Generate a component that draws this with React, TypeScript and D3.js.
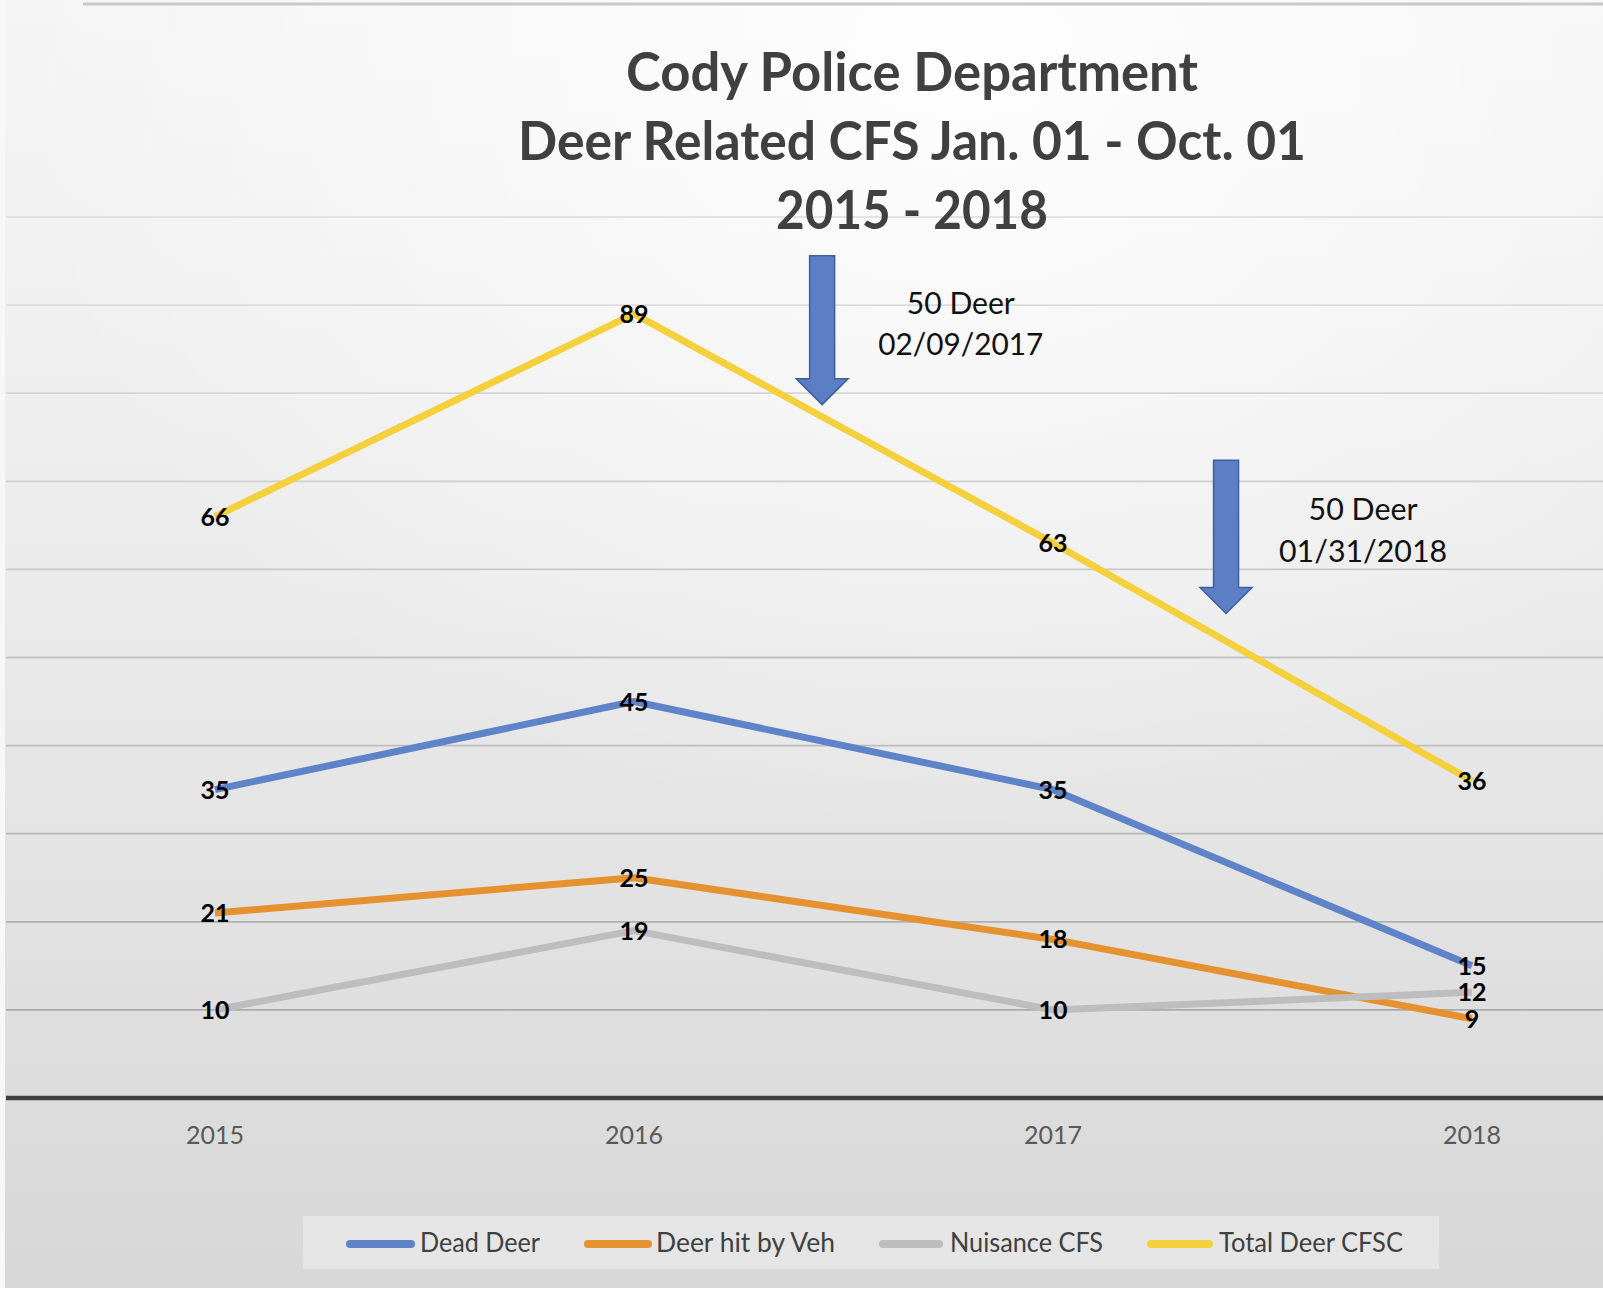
import React from "react";
import * as d3 from "d3";

const years = ["2015", "2016", "2017", "2018"];
const deadDeer = [35, 45, 35, 15];
const deerHitByVeh = [21, 25, 18, 9];
const nuisanceCFS = [10, 19, 10, 12];
const totalDeerCFSC = [66, 89, 63, 36];
const seriesNames = ["Dead Deer", "Deer hit by Veh", "Nuisance CFS", "Total Deer CFSC"];
const seriesColors = ["#5f83c9", "#e6912f", "#bdbdbd", "#f4d03c"];
const gridTicks = [10, 20, 30, 40, 50, 60, 70, 80, 90, 100];
const titleLines = ["Cody Police Department", "Deer Related CFS Jan. 01 - Oct. 01", "2015 - 2018"];
// annotations: category-index position and value range of arrow
const annotations = [
  { pos: 1.449, top: 95.6, tip: 78.7, textPos: 1.78, lines: ["50 Deer", "02/09/2017"], textY: [89.0, 84.3], widths: [108, 165] },
  { pos: 2.413, top: 72.4, tip: 55.0, textPos: 2.74, lines: ["50 Deer", "01/31/2018"], textY: [65.6, 60.8], widths: [109, 168] },
];

const W = 1603;
const H = 1292;

export default function App() {
  const x = d3.scalePoint<string>().domain(years).range([215, 1472]).padding(0);
  const xi = d3.scaleLinear().domain([0, 3]).range([215, 1472]);
  const y = d3.scaleLinear().domain([0, 100]).range([1098, 217]);
  const data = [deadDeer, deerHitByVeh, nuisanceCFS, totalDeerCFSC];
  const line = d3
    .line<number>()
    .x((_, i) => x(years[i]) as number)
    .y((d) => y(d));
  const gridColor = d3.scaleLinear<string>().domain([100, 10]).range(["#e2e2e2", "#ababab"]);

  const legendItems = [
    { sx: 346, ex: 415, tx: 420, tw: 120 },
    { sx: 584, ex: 652, tx: 656, tw: 179 },
    { sx: 879, ex: 943, tx: 950, tw: 153 },
    { sx: 1147, ex: 1213, tx: 1219, tw: 184 },
  ];
  const titleY = [91, 160, 229];
  const titleW = [572, 788, 272];

  const font = "Lato, 'Open Sans', sans-serif";

  return (
    <svg
      width={W}
      height={H}
      style={{ position: "absolute", left: 0, top: 0, display: "block" }}
      fontFamily={font}
    >
      <defs>
        <linearGradient id="bg" x1="0" y1="0" x2="0" y2="1">
          <stop offset="0" stopColor="#f5f5f5" />
          <stop offset="0.45" stopColor="#ebebeb" />
          <stop offset="1" stopColor="#d7d7d7" />
        </linearGradient>
        <radialGradient id="hl" cx="0.6" cy="0.05" r="0.6">
          <stop offset="0" stopColor="#ffffff" stopOpacity="0.85" />
          <stop offset="1" stopColor="#ffffff" stopOpacity="0" />
        </radialGradient>
      </defs>
      <rect x={0} y={0} width={W} height={H} fill="#ffffff" />
      <rect x={0} y={0} width={W} height={1288} fill="url(#bg)" />
      <rect x={0} y={0} width={W} height={1288} fill="url(#hl)" />
      <rect x={0} y={0} width={5} height={1288} fill="#f7f7f7" />
      <line x1={83} x2={W} y1={4} y2={4} stroke="#c9c9c9" strokeWidth={3} />

      {/* gridlines */}
      {gridTicks.map((t) => (
        <line key={t} x1={6} x2={W} y1={y(t)} y2={y(t)} stroke={gridColor(t)} strokeWidth={1.8} />
      ))}
      {/* axis */}
      <line x1={6} x2={W} y1={y(0)} y2={y(0)} stroke="#404040" strokeWidth={4.5} />
      {years.map((yr) => (
        <text key={yr} x={x(yr)} y={1144} textAnchor="middle" fontSize={25} fill="#595959">
          {yr}
        </text>
      ))}

      {/* title */}
      {titleLines.map((t, i) => (
        <text
          key={i}
          x={912}
          y={titleY[i]}
          textAnchor="middle"
          fontSize={54}
          fontWeight={700}
          fill="#404040"
          textLength={titleW[i]}
          lengthAdjust="spacingAndGlyphs"
        >
          {t}
        </text>
      ))}

      {/* series lines */}
      {data.map((s, i) => (
        <path
          key={i}
          d={line(s) as string}
          fill="none"
          stroke={seriesColors[i]}
          strokeWidth={7}
          strokeLinejoin="round"
        />
      ))}

      {/* annotations */}
      {annotations.map((a, i) => {
        const cx = xi(a.pos);
        const top = y(a.top);
        const tip = y(a.tip);
        const headH = 26;
        const sw = 12.5;
        const hw = 26;
        const p = `M${cx - sw},${top} L${cx + sw},${top} L${cx + sw},${tip - headH} L${cx + hw},${tip - headH} L${cx},${tip} L${cx - hw},${tip - headH} L${cx - sw},${tip - headH} Z`;
        return (
          <g key={i}>
            <path d={p} fill="#5b7ec4" stroke="#3f5f9e" strokeWidth={1.5} />
            {a.lines.map((l, j) => (
              <text
                key={j}
                x={xi(a.textPos)}
                y={y(a.textY[j])}
                textAnchor="middle"
                fontSize={30}
                fill="#111111"
                textLength={a.widths[j]}
                lengthAdjust="spacingAndGlyphs"
              >
                {l}
              </text>
            ))}
          </g>
        );
      })}

      {/* data labels */}
      {data.map((s, i) =>
        s.map((v, j) => (
          <text
            key={`${i}-${j}`}
            x={x(years[j])}
            y={y(v)}
            dy="0.36em"
            textAnchor="middle"
            fontSize={25}
            fontWeight={700}
            fill="#000000"
          >
            {v}
          </text>
        ))
      )}

      {/* legend */}
      <rect x={303} y={1216} width={1136} height={53} fill="#e5e5e5" />
      {seriesNames.map((n, i) => {
        const it = legendItems[i];
        return (
          <g key={n}>
            <line
              x1={it.sx + 4}
              x2={it.ex - 4}
              y1={1244}
              y2={1244}
              stroke={seriesColors[i]}
              strokeWidth={8}
              strokeLinecap="round"
            />
            <text
              x={it.tx}
              y={1252}
              fontSize={26}
              fill="#404040"
              textLength={it.tw}
              lengthAdjust="spacingAndGlyphs"
            >
              {n}
            </text>
          </g>
        );
      })}
    </svg>
  );
}
